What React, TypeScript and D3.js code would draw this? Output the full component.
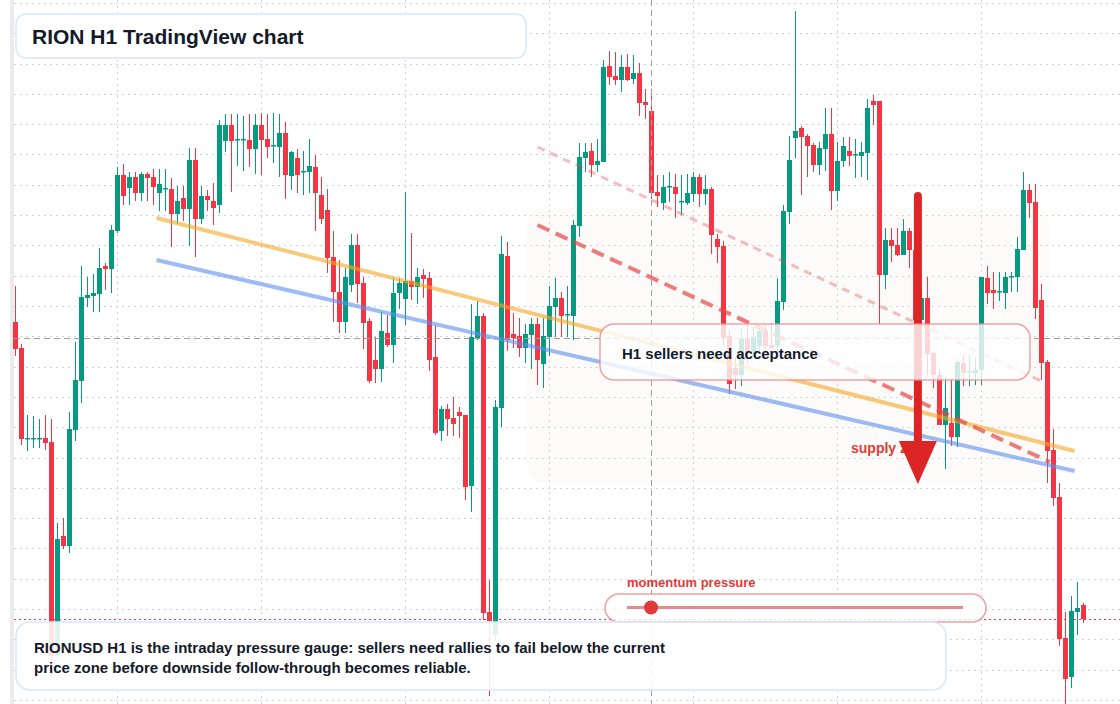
import React from 'react';
import * as d3 from 'd3';

const W = 1120;
const H = 704;

// hourly bars, first one at 07:00
const startTime = new Date(2024, 5, 10, 7);

const opens = [
  0.881, 0.855, 0.764, 0.764, 0.764, 0.765, 0.761, 0.547, 0.667, 0.657,
  0.773, 0.822, 0.905, 0.907, 0.909, 0.937, 0.934, 0.972, 1.028, 1.015,
  1.026, 1.010, 1.029, 1.026, 1.010, 1.014, 1.014, 0.989, 1.005, 0.994,
  1.043, 0.984, 1.007, 1.002, 0.998, 1.062, 1.078, 1.063, 1.063, 1.063,
  1.054, 1.078, 1.064, 1.057, 1.056, 1.070, 1.027, 1.045, 1.031, 1.031,
  1.036, 1.008, 0.993, 0.946, 0.911, 0.881, 0.918, 0.958, 0.920, 0.882,
  0.843, 0.834, 0.870, 0.858, 0.910, 0.904, 0.922, 0.916, 0.928, 0.925,
  0.846, 0.772, 0.794, 0.785, 0.791, 0.788, 0.717, 0.865, 0.887, 0.591,
  0.568, 0.795, 0.947, 0.869, 0.867, 0.855, 0.868, 0.879, 0.839, 0.866,
  0.896, 0.905, 0.888, 0.887, 0.977, 1.045, 1.052, 1.038, 1.041, 1.137,
  1.127, 1.123, 1.136, 1.124, 1.130, 1.101, 1.092, 1.011, 1.000, 1.016,
  1.016, 1.001, 1.000, 1.009, 1.026, 1.009, 1.014, 0.964, 0.957, 0.867,
  0.835, 0.828, 0.864, 0.851, 0.857, 0.872, 0.858, 0.857, 0.901, 0.991,
  1.065, 1.075, 1.067, 1.058, 1.038, 1.054, 1.069, 1.012, 1.042, 1.052,
  1.048, 1.047, 1.050, 1.102, 1.102, 0.928, 0.963, 0.958, 0.948, 0.972,
  0.953, 0.883, 0.905, 0.850, 0.828, 0.778, 0.780, 0.766, 0.840, 0.831,
  0.830, 0.833, 0.925, 0.913, 0.911, 0.910, 0.926, 0.926, 0.953, 1.013,
  1.001, 0.903, 0.841, 0.753, 0.706, 0.565, 0.526, 0.591, 0.598,
];

const highs = [
  0.917, 0.859, 0.788, 0.787, 0.784, 0.788, 0.784, 0.680, 0.685, 0.791,
  0.861, 0.937, 0.926, 0.929, 0.955, 0.940, 0.978, 1.036, 1.039, 1.031,
  1.031, 1.031, 1.031, 1.034, 1.034, 1.034, 1.025, 1.017, 1.017, 1.055,
  1.055, 1.017, 1.013, 1.020, 1.083, 1.089, 1.089, 1.089, 1.087, 1.089,
  1.089, 1.090, 1.089, 1.090, 1.089, 1.081, 1.052, 1.054, 1.052, 1.064,
  1.048, 1.026, 1.014, 0.972, 0.943, 0.935, 0.969, 0.969, 0.926, 0.885,
  0.866, 0.891, 0.888, 0.925, 0.925, 1.011, 0.970, 0.935, 0.934, 0.931,
  0.878, 0.797, 0.799, 0.806, 0.796, 0.788, 0.899, 0.902, 0.890, 0.623,
  0.803, 0.967, 0.961, 0.890, 0.885, 0.879, 0.885, 0.885, 0.885, 0.917,
  0.925, 0.911, 0.917, 0.983, 1.060, 1.060, 1.060, 1.064, 1.143, 1.152,
  1.151, 1.148, 1.149, 1.148, 1.140, 1.114, 1.114, 1.028, 1.028, 1.031,
  1.029, 1.028, 1.029, 1.031, 1.029, 1.028, 1.016, 0.969, 0.962, 0.873,
  0.845, 0.874, 0.878, 0.876, 0.878, 0.878, 0.880, 0.925, 0.998, 1.067,
  1.192, 1.077, 1.069, 1.060, 1.061, 1.095, 1.095, 1.061, 1.066, 1.066,
  1.064, 1.061, 1.104, 1.108, 1.102, 0.975, 0.975, 0.975, 0.984, 0.975,
  0.958, 0.913, 0.926, 0.852, 0.834, 0.826, 0.824, 0.844, 0.848, 0.848,
  0.845, 0.926, 0.937, 0.931, 0.931, 0.931, 0.931, 0.966, 1.031, 1.019,
  1.019, 0.919, 0.843, 0.774, 0.720, 0.591, 0.607, 0.621, 0.600,
];

const lows = [
  0.847, 0.758, 0.752, 0.755, 0.755, 0.753, 0.525, 0.543, 0.654, 0.650,
  0.762, 0.800, 0.896, 0.891, 0.891, 0.913, 0.910, 0.970, 0.998, 0.998,
  1.002, 1.002, 1.002, 0.998, 0.992, 0.992, 0.956, 0.979, 0.982, 0.957,
  0.946, 0.979, 0.992, 0.978, 0.990, 1.051, 1.011, 1.037, 1.032, 1.036,
  1.029, 1.028, 1.045, 1.040, 1.026, 1.004, 1.013, 1.010, 1.008, 1.010,
  0.972, 0.979, 0.930, 0.881, 0.870, 0.870, 0.911, 0.900, 0.854, 0.820,
  0.820, 0.821, 0.856, 0.840, 0.894, 0.878, 0.903, 0.899, 0.905, 0.832,
  0.768, 0.762, 0.767, 0.767, 0.765, 0.703, 0.691, 0.863, 0.583, 0.507,
  0.563, 0.776, 0.852, 0.855, 0.846, 0.840, 0.834, 0.818, 0.815, 0.847,
  0.866, 0.866, 0.866, 0.863, 0.966, 1.031, 1.026, 1.031, 1.041, 1.118,
  1.118, 1.111, 1.122, 1.119, 1.087, 1.084, 1.004, 0.996, 0.993, 1.001,
  0.985, 0.988, 0.998, 1.001, 0.996, 0.998, 0.949, 0.940, 0.858, 0.809,
  0.814, 0.817, 0.839, 0.846, 0.851, 0.851, 0.853, 0.851, 0.893, 0.979,
  1.045, 1.008, 1.026, 1.031, 1.028, 1.032, 0.993, 1.002, 1.036, 1.037,
  1.025, 1.026, 1.023, 1.078, 0.878, 0.914, 0.941, 0.947, 0.948, 0.935,
  0.873, 0.878, 0.828, 0.815, 0.778, 0.734, 0.757, 0.756, 0.817, 0.817,
  0.818, 0.818, 0.899, 0.894, 0.902, 0.894, 0.911, 0.911, 0.953, 0.985,
  0.884, 0.823, 0.720, 0.697, 0.557, 0.499, 0.515, 0.568, 0.580,
];

const closes = [
  0.854, 0.764, 0.765, 0.765, 0.765, 0.760, 0.547, 0.664, 0.657, 0.774,
  0.823, 0.906, 0.908, 0.910, 0.935, 0.934, 0.973, 1.028, 1.007, 1.026,
  1.010, 1.029, 1.025, 1.016, 1.019, 1.015, 0.989, 1.002, 0.994, 1.043,
  0.984, 1.007, 1.003, 0.995, 1.078, 1.078, 1.062, 1.064, 1.064, 1.054,
  1.078, 1.063, 1.056, 1.058, 1.070, 1.028, 1.051, 1.028, 1.032, 1.037,
  1.010, 0.984, 0.945, 0.911, 0.881, 0.926, 0.958, 0.919, 0.880, 0.822,
  0.834, 0.872, 0.858, 0.910, 0.920, 0.922, 0.916, 0.926, 0.924, 0.843,
  0.770, 0.794, 0.784, 0.779, 0.787, 0.716, 0.866, 0.887, 0.590, 0.582,
  0.796, 0.949, 0.863, 0.865, 0.855, 0.869, 0.879, 0.843, 0.867, 0.897,
  0.905, 0.887, 0.889, 0.978, 1.046, 1.051, 1.038, 1.042, 1.136, 1.126,
  1.123, 1.136, 1.123, 1.130, 1.100, 1.098, 1.010, 1.007, 1.016, 1.017,
  1.009, 1.002, 1.010, 1.026, 1.009, 1.014, 0.968, 0.956, 0.865, 0.819,
  0.828, 0.864, 0.851, 0.866, 0.872, 0.857, 0.855, 0.902, 0.992, 1.043,
  1.072, 1.066, 1.057, 1.038, 1.055, 1.069, 1.012, 1.042, 1.057, 1.047,
  1.049, 1.051, 1.095, 1.098, 0.928, 0.963, 0.957, 0.948, 0.972, 0.953,
  0.883, 0.905, 0.849, 0.828, 0.778, 0.795, 0.766, 0.841, 0.830, 0.832,
  0.833, 0.926, 0.910, 0.910, 0.912, 0.926, 0.927, 0.954, 1.013, 1.000,
  0.895, 0.840, 0.752, 0.705, 0.564, 0.524, 0.592, 0.595, 0.584,
];

// drawings: [bar index, price]
const resistanceLine = [[23.5, 0.985], [176.5, 0.752]];
const supportLine = [[23.5, 0.943], [176.5, 0.732]];
const channelLower = [[87, 0.978], [172.4, 0.741]];
const channelUpper = [[87, 1.056], [172.4, 0.818]];
const supplyZone = { from: 85.25, to: 172.4, top: 0.996, bottom: 0.72 };
const arrowDrawing = { at: 150.4, from: 1.007, head: 0.762, to: 0.719 };
const crosshair = { bar: 106, price: 0.865 };
const momentumValue = 0.07;

const GREEN = '#089981';
const RED = '#f23645';
const FONT = '"Liberation Sans", Arial, Helvetica, sans-serif';

export default function App() {
  const n = opens.length;
  const times = d3.range(n).map((i) => new Date(startTime.getTime() + i * 3600 * 1000));

  const x = d3.scaleBand<number>().domain(d3.range(n)).range([12.5, 12.5 + 6 * n]);
  const bw = x.bandwidth();
  const cx = d3.scaleLinear().domain([0, 1]).range([12.5 + bw / 2, 12.5 + bw * 1.5]);
  const y = d3.scaleLinear().domain([0.503, 1.2]).range([700, 3]);

  const gridPrices = d3.range(24).map((k) => 1.2 - k * 0.0303);
  const dayStarts = d3.range(n).filter((i) => times[i].getHours() === 0);

  const lastClose = closes[n - 1];
  const line = d3.line<number[]>().x((d) => cx(d[0])).y((d) => y(d[1]));

  const gauge = d3.scaleLinear().domain([0, 1]).range([627, 963]);

  const ax = cx(arrowDrawing.at);

  return (
    <svg width={W} height={H} style={{ position: 'absolute', left: 0, top: 0, background: '#fff' }}>
      <rect x={0} y={0} width={W} height={H} fill="#fff" />
      <rect x={10} y={0} width={4} height={H} fill="#ebebeb" />

      {/* grid */}
      <g stroke="#cfd2d6" strokeWidth={1} strokeDasharray="2 4">
        {gridPrices.map((p, k) => (
          <line key={'h' + k} x1={14} x2={W} y1={Math.round(y(p)) + 0.5} y2={Math.round(y(p)) + 0.5} />
        ))}
        {dayStarts.map((i) => (
          <line key={'v' + i} x1={Math.floor(cx(i)) + 0.5} x2={Math.floor(cx(i)) + 0.5} y1={0} y2={H} />
        ))}
      </g>

      {/* supply zone */}
      <rect
        x={cx(supplyZone.from)}
        y={y(supplyZone.top)}
        width={cx(supplyZone.to) - cx(supplyZone.from)}
        height={y(supplyZone.bottom) - y(supplyZone.top)}
        rx={18}
        fill="#f5e9dc"
        fillOpacity={0.16}
      />

      {/* candles */}
      <g>
        {d3.range(n).map((i) => {
          const up = closes[i] >= opens[i];
          const col = up ? GREEN : RED;
          const top = y(Math.max(opens[i], closes[i]));
          const bot = y(Math.min(opens[i], closes[i]));
          const xc = Math.floor(cx(i)) + 0.5;
          return (
            <g key={i}>
              <line x1={xc} x2={xc} y1={y(highs[i])} y2={y(lows[i])} stroke={col} strokeWidth={1} />
              <rect x={(x(i) as number) + 0.5} y={top} width={bw - 1} height={Math.max(1.5, bot - top)} fill={col} />
            </g>
          );
        })}
      </g>

      {/* trend lines */}
      <path d={line(resistanceLine) as string} stroke="#f5a623" strokeOpacity={0.6} strokeWidth={4} fill="none" />
      <path d={line(supportLine) as string} stroke="#5b8def" strokeOpacity={0.6} strokeWidth={4} fill="none" />
      <path d={line(channelUpper) as string} stroke="#e64646" strokeOpacity={0.35} strokeWidth={3} strokeDasharray="8 6" fill="none" />
      <path d={line(channelLower) as string} stroke="#e64646" strokeOpacity={0.7} strokeWidth={4} strokeDasharray="13 7" fill="none" />

      {/* crosshair */}
      <g stroke="#9b9ea3" strokeWidth={1} strokeDasharray="6 4">
        <line x1={14} x2={W} y1={Math.round(y(crosshair.price)) + 0.5} y2={Math.round(y(crosshair.price)) + 0.5} />
        <line x1={Math.floor(cx(crosshair.bar)) + 0.5} x2={Math.floor(cx(crosshair.bar)) + 0.5} y1={0} y2={H} />
      </g>

      {/* last price */}
      <line x1={14} x2={W} y1={Math.round(y(lastClose)) + 0.5} y2={Math.round(y(lastClose)) + 0.5} stroke={RED} strokeWidth={1} strokeDasharray="2 3" />

      {/* supply label and arrow */}
      <text x={851} y={453} fontFamily={FONT} fontWeight="bold" fontSize={14} fill="#e53935">supply zone</text>
      <line x1={ax} x2={ax} y1={y(arrowDrawing.from)} y2={y(arrowDrawing.head) + 2} stroke="#dc2626" strokeWidth={8} strokeLinecap="round" />
      <path
        d={`M${ax - 19},${y(arrowDrawing.head)} L${ax + 19},${y(arrowDrawing.head)} L${ax},${y(arrowDrawing.to)} Z`}
        fill="#dc2626"
      />

      {/* middle label */}
      <rect x={600} y={324} width={430} height={56} rx={14} fill="#fff" fillOpacity={0.8} stroke="#ec8c8c" strokeOpacity={0.8} strokeWidth={1.5} />
      <text x={622} y={359} fontFamily={FONT} fontWeight="bold" fontSize={15} fill="#131a2a">H1 sellers need acceptance</text>

      {/* momentum gauge */}
      <text x={627} y={587} fontFamily={FONT} fontWeight="bold" fontSize={13} fill="#e53935">momentum pressure</text>
      <rect x={605} y={594} width={381} height={28} rx={14} fill="#fff" fillOpacity={0.8} stroke="#e88a8a" strokeOpacity={0.8} strokeWidth={1.5} />
      <line x1={gauge(0)} x2={gauge(1)} y1={607.5} y2={607.5} stroke="#e98a8a" strokeWidth={3} />
      <circle cx={gauge(momentumValue) + 0.5} cy={607.5} r={7} fill="#e03a3a" />

      {/* title */}
      <rect x={16} y={14} width={510} height={44} rx={10} fill="#fff" fillOpacity={0.95} stroke="#dbe6f7" strokeWidth={1.5} />
      <text x={32} y={43.5} fontFamily={FONT} fontWeight="bold" fontSize={21} fill="#131a2a">RION H1 TradingView chart</text>

      {/* note */}
      <rect x={16} y={622} width={930} height={68} rx={14} fill="#fff" fillOpacity={0.88} stroke="#dbe6f7" strokeWidth={1.5} />
      <text fontFamily={FONT} fontWeight="bold" fontSize={15} fill="#131a2a">
        <tspan x={34} y={653}>RIONUSD H1 is the intraday pressure gauge: sellers need rallies to fail below the current</tspan>
        <tspan x={34} y={673}>price zone before downside follow-through becomes reliable.</tspan>
      </text>
    </svg>
  );
}
